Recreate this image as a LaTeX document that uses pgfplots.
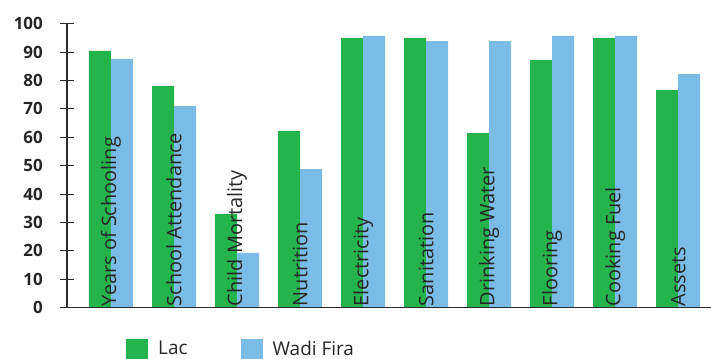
\documentclass[border=0pt]{standalone}
\usepackage{fontspec}
\setmainfont{Open Sans}
\usepackage{pgfplots}
\pgfplotsset{compat=1.18}
\definecolor{lacgreen}{HTML}{25B34B}
\definecolor{wfblue}{HTML}{7BBCE6}
\definecolor{axisgray}{HTML}{2B2B2B}

\begin{document}
\begin{tikzpicture}
\useasboundingbox (-67bp,-51.3bp) rectangle (644bp,307.7bp);
\begin{axis}[
  at={(0,0)}, anchor=south west, scale only axis,
  width=644bp, height=284bp,
  ymin=0, ymax=100, xmin=-0.698, xmax=9.52,
  ybar=0pt, bar width=22bp,
  axis on top,
  axis x line=bottom, axis y line=left,
  axis line style={axisgray, line width=1.1bp, -},
  x axis line style={shorten <=-6bp},
  ytick={0,10,...,100},
  yticklabels={},
  tick align=center, major tick length=14bp,
  ytick style={axisgray, line width=1bp},
  xtick={0,...,9},
  xticklabels={Years of Schooling, School Attendance, Child Mortality, Nutrition, Electricity, Sanitation, Drinking Water, Flooring, Cooking Fuel, Assets},
  x tick style={draw=none},
  x tick label style={rotate=90, anchor=west, font=\fontsize{20}{20}\selectfont, text=black!85, xshift=1bp},
  xticklabel shift=-4bp,
  clip=false,
  legend style={at={(0.087,-0.145)}, anchor=west, draw=none, fill=none,
    legend columns=2, font=\fontsize{19}{19}\selectfont, text=black!85,
    nodes={inner xsep=10bp},
    /tikz/every even column/.append style={column sep=43bp}},
]
\addplot[fill=lacgreen, draw=none,
  legend image code/.code={\fill[lacgreen] (0bp,-10bp) rectangle (22bp,10bp);}]
  coordinates {(0,90.4) (1,78.1) (2,33.0) (3,62.2) (4,95.0) (5,95.0) (6,61.5) (7,87.2) (8,95.0) (9,76.6)};
\addlegendentry{Lac}
\addplot[fill=wfblue, draw=none,
  legend image code/.code={\fill[wfblue] (0bp,-10bp) rectangle (22bp,10bp);}]
  coordinates {(0,87.6) (1,71.0) (2,19.3) (3,48.8) (4,95.7) (5,93.9) (6,93.9) (7,95.7) (8,95.7) (9,82.2)};
\addlegendentry{Wadi Fira}
% value labels of the y axis, set clear of the crossing ticks
\pgfplotsinvokeforeach{0,10,20,30,40,50,60,70,80,90,100}{
  \node[anchor=east, inner sep=0pt, xshift=-24bp, text=black!85,
        font=\bfseries\fontsize{17}{17}\selectfont] at (axis cs:-0.698,#1) {#1};
}
\end{axis}
\end{tikzpicture}
\end{document}
